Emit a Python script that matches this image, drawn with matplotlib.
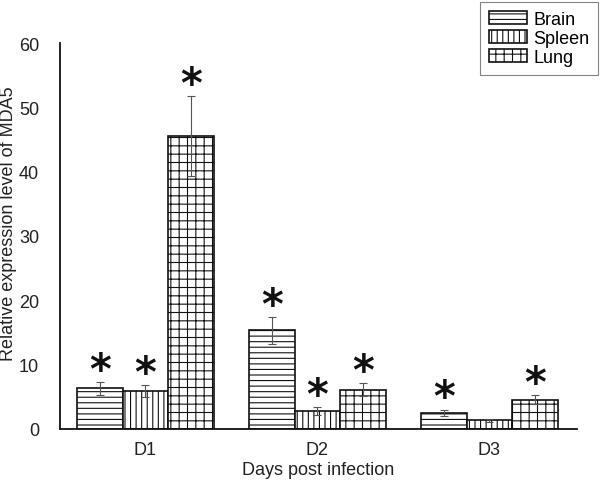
import matplotlib.pyplot as plt
import numpy as np

plt.rcParams['font.family'] = ['Liberation Sans', 'DejaVu Sans']
plt.rcParams['hatch.linewidth'] = 0.8

days = ['D1', 'D2', 'D3']
tissues = ['Brain', 'Spleen', 'Lung']
hatches = ['---', '|||', '++']

values = {
    'Brain': [6.3, 15.3, 2.5],
    'Spleen': [5.9, 2.8, 1.3],
    'Lung': [45.5, 6.1, 4.5],
}
errors = {
    'Brain': [1.0, 2.1, 0.5],
    'Spleen': [0.9, 0.6, 0.3],
    'Lung': [6.2, 1.0, 0.7],
}
# significance marks per tissue/day
stars = {
    'Brain': [True, True, True],
    'Spleen': [True, True, False],
    'Lung': [True, True, True],
}

fig = plt.figure(figsize=(6, 4.89), dpi=100)
ax = fig.add_axes([0.1, 0.121, 0.862, 0.789])

x = np.arange(len(days))
w = 0.266
for k, t in enumerate(tissues):
    pos = x + (k - 1) * w
    ax.bar(pos, values[t], w, color='white', edgecolor='#111111', linewidth=1.2,
           hatch=hatches[k], label=t, zorder=2)
    ax.errorbar(pos, values[t], yerr=errors[t], fmt='none', ecolor='#555555',
                elinewidth=0.8, capsize=3, capthick=0.8, zorder=3)
    for p, v, e, s in zip(pos, values[t], errors[t], stars[t]):
        if s:
            ax.annotate('*', (p, v + e), xytext=(0, -0.5), textcoords='offset points',
                        ha='center', va='baseline', fontsize=30, fontweight='bold',
                        color='#111111', family='DejaVu Sans')

ax.set_xlim(-0.497, 2.51)
ax.set_ylim(0, 60)
ax.set_yticks(range(0, 61, 10))
ax.set_xticks(x)
ax.set_xticklabels(days)
ax.tick_params(axis='both', length=0, labelsize=13, colors='#222222', pad=9)
ax.tick_params(axis='y', pad=15)
for s in ['top', 'right']:
    ax.spines[s].set_visible(False)
for s in ['left', 'bottom']:
    ax.spines[s].set_linewidth(1.3)
    ax.spines[s].set_color('#111111')
ax.set_xlabel('Days post infection', fontsize=13, color='#222222', labelpad=2)
ax.set_ylabel('Relative expression level of MDA5', fontsize=13, color='#222222')
ax.yaxis.set_label_coords(-0.083, 0.534)

leg = fig.legend(loc='upper right', bbox_to_anchor=(0.997, 0.994), fontsize=13,
                 frameon=True, fancybox=False, edgecolor='#666666',
                 handlelength=2.1, handleheight=0.75, handletextpad=0.35,
                 labelspacing=0.1, borderpad=0.5, borderaxespad=0)
leg.get_frame().set_linewidth(0.8)

fig.savefig('out.png', dpi=100)
